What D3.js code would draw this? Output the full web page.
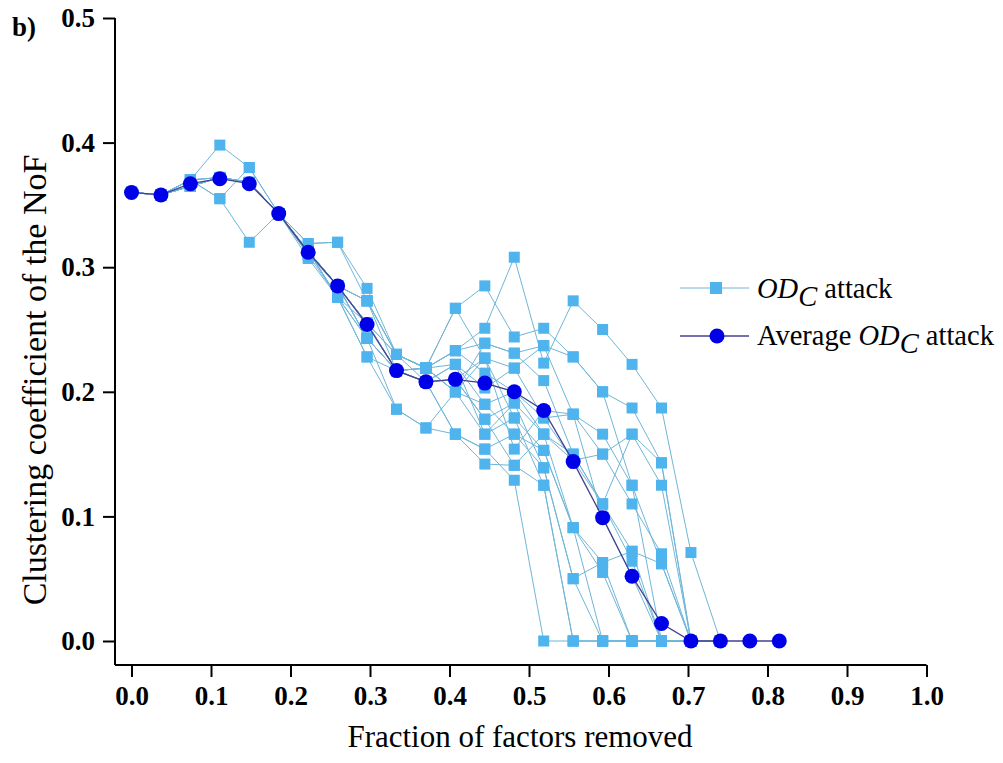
<!DOCTYPE html>
<html><head><meta charset="utf-8">
<script src="https://cdn.jsdelivr.net/npm/d3@7"></script>
<style>body{margin:0;background:#fff}svg{display:block}</style>
</head><body>
<svg id="c" width="1003" height="763"></svg>
<script>
// x positions: fraction of factors removed (k/27)
const xValues = d3.range(0, 23).map(k => k / 27);
const xTicks = [0, 0.1, 0.2, 0.3, 0.4, 0.5, 0.6, 0.7, 0.8, 0.9, 1.0];
const yTicks = [0, 0.1, 0.2, 0.3, 0.4, 0.5];

// average OD_C attack
const avgValues = [0.360, 0.358, 0.367, 0.371, 0.367, 0.343, 0.312, 0.285, 0.254, 0.217, 0.208, 0.210, 0.207, 0.200, 0.185, 0.144, 0.099, 0.052, 0.014, 0, 0, 0, 0];

// individual OD_C attack runs
const run1  = [0.36,0.358,0.370,0.398,0.380,0.343,0.319,0.320,0.283,0.230,0.219,0.267,0.285,0.244,0.251,0.228,0.200,0.187,0.143,0,0];
const run2  = [0.36,0.358,0.370,0.355,0.320,0.343,0.310,0.276,0.228,0.186,0.171,0.166,0.154,0.129,0,0,0,0,0,0,0];
const run3  = [0.36,0.358,0.370,0.355,0.380,0.343,0.310,0.285,0.273,0.230,0.219,0.233,0.251,0.308,0.223,0.273,0.250,0.222,0.187,0.071,0];
const run4  = [0.36,0.358,0.370,0.372,0.368,0.343,0.307,0.276,0.243,0.217,0.208,0.222,0.190,0.166,0.139,0.050,0,0,0,0,0];
const run5  = [0.36,0.358,0.370,0.372,0.368,0.343,0.319,0.320,0.273,0.230,0.219,0.200,0.227,0.219,0.237,0.182,0.166,0.125,0.062,0,0];
const run6  = [0.36,0.358,0.370,0.372,0.368,0.343,0.313,0.285,0.255,0.217,0.208,0.210,0.178,0.191,0.166,0.091,0.055,0,0,0,0];
const run7  = [0.36,0.358,0.365,0.372,0.368,0.343,0.313,0.285,0.243,0.186,0.171,0.200,0.239,0.231,0.209,0.150,0.110,0.064,0,0,0];
const run8  = [0.36,0.358,0.365,0.372,0.368,0.343,0.313,0.276,0.228,0.217,0.219,0.233,0.215,0.200,0.179,0.145,0.150,0.110,0.070,0,0];
const run9  = [0.36,0.358,0.365,0.372,0.368,0.343,0.313,0.285,0.255,0.230,0.208,0.166,0.142,0.141,0.125,0,0,0,0,0,0];
const run10 = [0.36,0.358,0.365,0.372,0.368,0.343,0.313,0.285,0.273,0.217,0.219,0.222,0.166,0.179,0.153,0.091,0.063,0.072,0,0,0];
const run11 = [0.36,0.358,0.365,0.372,0.368,0.343,0.313,0.276,0.243,0.217,0.208,0.210,0.227,0.154,0.185,0.182,0.099,0.052,0,0,0];
const run12 = [0.36,0.358,0.365,0.372,0.368,0.343,0.313,0.285,0.255,0.217,0.219,0.200,0.190,0.200,0.166,0.150,0.110,0.166,0.125,0,0];
const run13 = [0.36,0.358,0.365,0.372,0.368,0.343,0.313,0.285,0.243,0.217,0.219,0.233,0.239,0.231,0.237,0.228,0.200,0.125,0,0,0];
const run14 = [0.36,0.358,0.365,0.372,0.368,0.343,0.313,0.285,0.255,0.217,0.208,0.222,0.203,0.219,0.179,0.182,0.150,0.166,0.143,0,0];
const run15 = [0.36,0.358,0.365,0.372,0.368,0.343,0.313,0.276,0.255,0.230,0.219,0.200,0.166,0.191,0.139,0.050,0.063,0,0,0,0];
const run16 = [0.36,0.358,0.365,0.372,0.368,0.343,0.313,0.285,0.243,0.217,0.208,0.166,0.154,0.166,0.153,0.091,0,0,0,0,0];
const run17 = [0.36,0.358,0.365,0.372,0.368,0.343,0.313,0.285,0.273,0.230,0.219,0.267,0.227,0.179,0.125,0,0,0,0,0,0];
const run18 = [0.36,0.358,0.365,0.372,0.368,0.343,0.313,0.285,0.255,0.217,0.208,0.210,0.178,0.141,0.166,0.145,0.110,0.072,0.062,0,0];
const runs = [run1, run2, run3, run4, run5, run6, run7, run8, run9, run10, run11, run12, run13, run14, run15, run16, run17, run18];

const svg = d3.select("#c");
const x = d3.scaleLinear().domain([0, 1]).range([131.5, 926.5]);
const y = d3.scaleLinear().domain([0, 0.5]).range([641, 18]);
const axisX0 = 115, axisY0 = 665;

const serif = "'Liberation Serif','Times New Roman',serif";

// individual runs: lines
const line = d3.line().x((d, i) => x(xValues[i])).y(d => y(d));
const gRuns = svg.append("g");
runs.forEach(r => {
  gRuns.append("path").attr("d", line(r)).attr("fill", "none")
    .attr("stroke", "#6fb6d8").attr("stroke-width", 1);
});
runs.forEach(r => {
  gRuns.selectAll(null).data(r).enter().append("rect")
    .attr("x", (d, i) => x(xValues[i]) - 5.5).attr("y", d => y(d) - 5.5)
    .attr("width", 11).attr("height", 11).attr("fill", "#4fb4ee");
});

// average
svg.append("path").attr("d", line(avgValues)).attr("fill", "none")
  .attr("stroke", "#44418e").attr("stroke-width", 1.3);
svg.append("g").selectAll("circle").data(avgValues).enter().append("circle")
  .attr("cx", (d, i) => x(xValues[i])).attr("cy", d => y(d)).attr("r", 7.5)
  .attr("fill", "#0000e8");

// axes
const yAxis = d3.axisLeft(y).tickValues(yTicks).tickFormat(d3.format(".1f")).tickSize(12).tickPadding(8);
const gy = svg.append("g").attr("transform", `translate(${axisX0},0)`).call(yAxis);
gy.select(".domain").remove();
svg.append("line").attr("x1", axisX0).attr("x2", axisX0).attr("y1", 18).attr("y2", axisY0)
  .attr("stroke", "#000").attr("stroke-width", 2);

const xAxis = d3.axisBottom(x).tickValues(xTicks).tickFormat(d3.format(".1f")).tickSize(12).tickPadding(9);
const gx = svg.append("g").attr("transform", `translate(0,${axisY0})`).call(xAxis);
gx.select(".domain").remove();
svg.append("line").attr("x1", axisX0).attr("x2", x(1)).attr("y1", axisY0).attr("y2", axisY0)
  .attr("stroke", "#000").attr("stroke-width", 2);

[gx, gy].forEach(g => {
  g.selectAll(".tick line").attr("stroke", "#000").attr("stroke-width", 2);
  g.selectAll(".tick text").attr("font-family", serif).attr("font-weight", "bold")
    .attr("font-size", 27).attr("fill", "#000");
});

// titles
svg.append("text").attr("x", 520).attr("y", 747).attr("text-anchor", "middle")
  .attr("font-family", serif).attr("font-size", 31).text("Fraction of factors removed");
svg.append("text").attr("transform", "translate(46,380) rotate(-90)").attr("text-anchor", "middle")
  .attr("font-family", serif).attr("font-size", 34).text("Clustering coefficient of the NoF");
svg.append("text").attr("x", 12).attr("y", 36).attr("font-family", serif)
  .attr("font-weight", "bold").attr("font-size", 27).text("b)");

// legend
const lg = svg.append("g");
lg.append("line").attr("x1", 680).attr("x2", 749).attr("y1", 288).attr("y2", 288)
  .attr("stroke", "#6fb6d8").attr("stroke-width", 1);
lg.append("rect").attr("x", 710).attr("y", 282).attr("width", 12).attr("height", 12).attr("fill", "#4fb4ee");
lg.append("line").attr("x1", 680).attr("x2", 749).attr("y1", 336).attr("y2", 336)
  .attr("stroke", "#44418e").attr("stroke-width", 1.3);
lg.append("circle").attr("cx", 717).attr("cy", 336).attr("r", 7.5).attr("fill", "#0000e8");

function legendText(yPos, prefix) {
  const t = lg.append("text").attr("x", 757).attr("y", yPos).attr("font-family", serif).attr("font-size", 28.5);
  if (prefix) t.append("tspan").text(prefix);
  t.append("tspan").attr("font-style", "italic").text("OD");
  t.append("tspan").attr("font-style", "italic").attr("dy", 8).text("C");
  t.append("tspan").attr("dy", -8).text(" attack");
}
legendText(298, null);
legendText(345, "Average ");
</script>
</body></html>
